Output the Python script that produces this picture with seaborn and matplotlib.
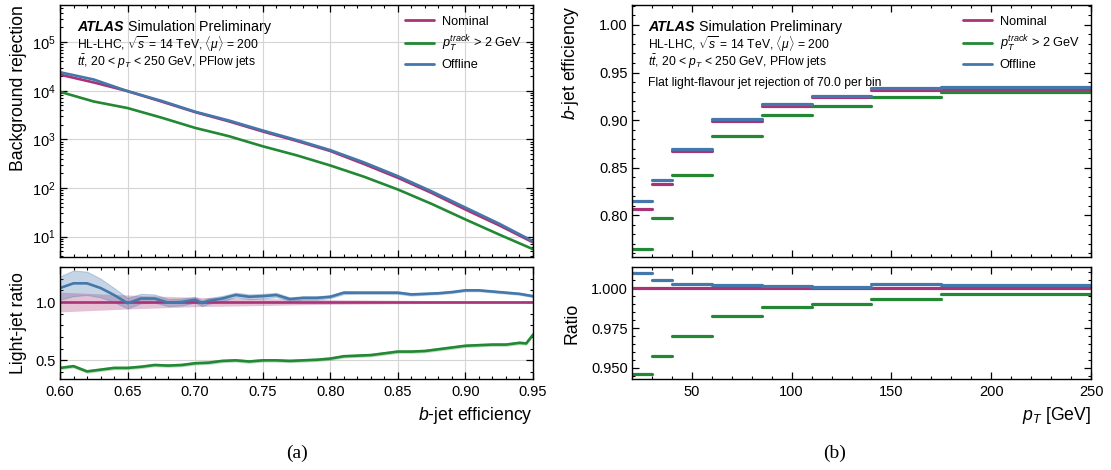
import numpy as np
import pandas as pd
import matplotlib
matplotlib.use("Agg")
import matplotlib.pyplot as plt
import seaborn as sns
from matplotlib.ticker import MultipleLocator, LogLocator, NullFormatter, FormatStrFormatter
from matplotlib.lines import Line2D

# ---------------- data ----------------
taggers = ["Nominal", "$p_T^{track}$ > 2 GeV", "Offline"]
colors = ["#AA3377", "#228833", "#4477AA"]

# (a) top: background rejection vs b-jet efficiency
eff_top = [0.600, 0.625, 0.650, 0.675, 0.700, 0.725, 0.750, 0.775,
           0.800, 0.825, 0.850, 0.875, 0.900, 0.925, 0.950]
rej_nominal = [21400, 14800, 9800, 6000, 3630, 2340, 1450, 930,
               575, 310, 162, 79, 36, 17, 7.6]
rej_ptcut = [9500, 6000, 4400, 2800, 1720, 1160, 720, 470,
             290, 170, 93, 47, 22.5, 11, 5.5]
rej_offline = [24000, 17000, 9800, 6200, 3700, 2440, 1520, 970,
               600, 335, 175, 85, 39.5, 18.4, 8.0]

# (a) bottom: light-jet ratio
eff_nom_band = [0.60, 0.65, 0.70, 0.75, 0.80, 0.85, 0.90, 0.95]
ratio_nominal = [1.0, 1.0, 1.0, 1.0, 1.0, 1.0, 1.0, 1.0]
unc_nominal = [0.085, 0.06, 0.04, 0.03, 0.02, 0.015, 0.01, 0.01]

eff_off_ratio = [0.60, 0.61, 0.62, 0.63, 0.64, 0.65, 0.66, 0.67, 0.68, 0.69, 0.70, 0.705,
                 0.71, 0.72, 0.73, 0.74, 0.75, 0.76, 0.77, 0.78, 0.79, 0.80, 0.81, 0.82,
                 0.83, 0.84, 0.85, 0.86, 0.87, 0.88, 0.89, 0.90, 0.91, 0.92, 0.93, 0.94, 0.95]
ratio_offline = [1.12, 1.16, 1.16, 1.12, 1.06, 0.99, 1.03, 1.03, 0.995, 1.00, 1.02, 0.99,
                 1.01, 1.03, 1.06, 1.045, 1.05, 1.06, 1.025, 1.035, 1.035, 1.045, 1.08, 1.08,
                 1.08, 1.08, 1.08, 1.065, 1.07, 1.075, 1.085, 1.10, 1.10, 1.09, 1.08, 1.07, 1.05]
unc_offline = [0.10, 0.11, 0.10, 0.08, 0.06, 0.045, 0.04, 0.035, 0.03, 0.03, 0.025, 0.025,
               0.025, 0.022, 0.02, 0.02, 0.02, 0.018, 0.015, 0.015, 0.015, 0.012, 0.012, 0.01,
               0.01, 0.01, 0.01, 0.01, 0.008, 0.008, 0.008, 0.008, 0.008, 0.008, 0.008, 0.008, 0.008]

eff_cut_ratio = [0.60, 0.61, 0.62, 0.63, 0.64, 0.65, 0.66, 0.67, 0.68, 0.69, 0.70, 0.71,
                 0.72, 0.73, 0.74, 0.75, 0.76, 0.77, 0.78, 0.79, 0.80, 0.81, 0.82, 0.83,
                 0.84, 0.85, 0.86, 0.87, 0.88, 0.89, 0.90, 0.91, 0.92, 0.93, 0.94, 0.945, 0.95]
ratio_ptcut = [0.435, 0.45, 0.405, 0.42, 0.435, 0.435, 0.445, 0.46, 0.455, 0.46, 0.475, 0.48,
               0.495, 0.50, 0.49, 0.50, 0.50, 0.495, 0.50, 0.505, 0.515, 0.535, 0.54, 0.545,
               0.56, 0.575, 0.575, 0.58, 0.595, 0.61, 0.625, 0.63, 0.635, 0.635, 0.65, 0.645, 0.72]
unc_ptcut = 0.015

# (b): b-jet efficiency per pT bin at flat light rejection of 70
pt_bins = [20, 30, 40, 60, 85, 110, 140, 175, 250]
beff_nominal = [0.807, 0.8326, 0.8677, 0.8986, 0.9147, 0.9239, 0.9316, 0.9323]
beff_ptcut = [0.764, 0.797, 0.8424, 0.883, 0.905, 0.915, 0.9245, 0.9298]
beff_offline = [0.815, 0.837, 0.870, 0.901, 0.9165, 0.925, 0.9334, 0.935]
bratio_nominal = [1.0, 1.0, 1.0, 1.0, 1.0, 1.0, 1.0, 1.0]
bratio_ptcut = [0.946, 0.9576, 0.9702, 0.9827, 0.9882, 0.9901, 0.9931, 0.9966]
bratio_offline = [1.0096, 1.0052, 1.0025, 1.0021, 1.0014, 1.0008, 1.0025, 1.0021]

# ---------------- style ----------------
sns.set_theme(style="ticks")
plt.rcParams.update({
    "font.family": ["Liberation Sans", "DejaVu Sans"],
    "mathtext.fontset": "custom",
    "mathtext.rm": "Liberation Sans",
    "mathtext.it": "Liberation Sans:italic",
    "mathtext.bf": "Liberation Sans:bold",
    "text.color": "black", "axes.labelcolor": "black",
    "axes.edgecolor": "black", "xtick.color": "black", "ytick.color": "black",
    "axes.linewidth": 1.0,
    "xtick.direction": "in", "ytick.direction": "in",
    "xtick.top": True, "ytick.right": True,
    "xtick.major.size": 5, "ytick.major.size": 5,
    "xtick.minor.size": 2.5, "ytick.minor.size": 2.5,
    "xtick.major.width": 0.9, "ytick.major.width": 0.9,
    "xtick.minor.width": 0.8, "ytick.minor.width": 0.8,
    "xtick.labelsize": 10.5, "ytick.labelsize": 10.5,
    "xtick.major.pad": 4.5, "ytick.major.pad": 3,
    "axes.labelsize": 12.7,
})

W, H = 1111, 470
fig = plt.figure(figsize=(W / 100, H / 100), dpi=100)


def box(x0, y0, x1, y1):
    return [x0 / W, 1 - y1 / H, (x1 - x0) / W, (y1 - y0) / H]


ax1 = fig.add_axes(box(60, 5, 533, 257))
ax2 = fig.add_axes(box(60, 267, 533, 379))
ax3 = fig.add_axes(box(632, 5, 1091, 257))
ax4 = fig.add_axes(box(632, 267, 1091, 379))

pal = dict(zip(taggers, colors))
LW = 1.9

# ---------------- (a) top ----------------
df_rej = pd.DataFrame({
    "eff": eff_top * 3,
    "rej": rej_nominal + rej_ptcut + rej_offline,
    "tagger": [t for t in taggers for _ in eff_top],
})
sns.lineplot(data=df_rej, x="eff", y="rej", hue="tagger", hue_order=taggers,
             palette=pal, estimator=None, lw=LW, legend=False, ax=ax1)
ax1.set_yscale("log")
ax1.set_xlim(0.60, 0.95)
ax1.set_ylim(3.8, 5.8e5)
ax1.yaxis.set_major_locator(LogLocator(base=10, numticks=12))
ax1.yaxis.set_minor_locator(LogLocator(base=10, subs=np.arange(2, 10), numticks=12))
ax1.yaxis.set_minor_formatter(NullFormatter())
ax1.xaxis.set_major_locator(MultipleLocator(0.05))
ax1.xaxis.set_minor_locator(MultipleLocator(0.01))
ax1.tick_params(axis="x", labelbottom=False)
ax1.set_xlabel("")
ax1.set_ylabel("Background rejection", ha="right", y=1.0)
ax1.yaxis.set_label_coords(-0.070, 1.0)

# ---------------- (a) bottom ----------------
ax2.fill_between(eff_nom_band, np.array(ratio_nominal) - np.array(unc_nominal),
                 np.array(ratio_nominal) + np.array(unc_nominal),
                 color=colors[0], alpha=0.3, lw=0)
sns.lineplot(x=eff_nom_band, y=ratio_nominal, color=colors[0], lw=LW, ax=ax2)
ax2.fill_between(eff_cut_ratio, np.array(ratio_ptcut) - unc_ptcut,
                 np.array(ratio_ptcut) + unc_ptcut, color=colors[1], alpha=0.3, lw=0)
sns.lineplot(x=eff_cut_ratio, y=ratio_ptcut, color=colors[1], lw=LW,
             estimator=None, ax=ax2)
ax2.fill_between(eff_off_ratio, np.array(ratio_offline) - np.array(unc_offline),
                 np.array(ratio_offline) + np.array(unc_offline),
                 color=colors[2], alpha=0.3, lw=0.8, edgecolor=colors[2])
sns.lineplot(x=eff_off_ratio, y=ratio_offline, color=colors[2], lw=LW,
             estimator=None, ax=ax2)
ax2.set_xlim(0.60, 0.95)
ax2.set_ylim(0.34, 1.30)
ax2.xaxis.set_major_locator(MultipleLocator(0.05))
ax2.xaxis.set_minor_locator(MultipleLocator(0.01))
ax2.xaxis.set_major_formatter(FormatStrFormatter("%.2f"))
ax2.yaxis.set_major_locator(MultipleLocator(0.5))
ax2.yaxis.set_minor_locator(MultipleLocator(0.1))
ax2.yaxis.set_major_formatter(FormatStrFormatter("%.1f"))
ax2.set_ylabel("Light-jet ratio")
ax2.yaxis.set_label_coords(-0.070, 0.5)
ax2.set_xlabel("$b$-jet efficiency", ha="right", va="top")
ax2.xaxis.set_label_coords(1.0, -0.23)

for ax in (ax1, ax2):
    ax.grid(True, which="major", color="#d4d4d4", lw=0.8)
    ax.set_axisbelow(True)


# ---------------- (b) ----------------
def seg_frame(series):
    rows = []
    for name, vals in series:
        for i, v in enumerate(vals):
            rows.append((name, i, pt_bins[i], v))
            rows.append((name, i, pt_bins[i + 1], v))
    return pd.DataFrame(rows, columns=["tagger", "bin", "pt", "val"])


df_eff = seg_frame(zip(taggers, [beff_nominal, beff_ptcut, beff_offline]))
sns.lineplot(data=df_eff, x="pt", y="val", hue="tagger", hue_order=taggers,
             palette=pal, units="bin", estimator=None, lw=2.3, legend=False, ax=ax3)
df_br = seg_frame(zip(taggers, [bratio_nominal, bratio_ptcut, bratio_offline]))
sns.lineplot(data=df_br, x="pt", y="val", hue="tagger", hue_order=taggers,
             palette=pal, units="bin", estimator=None, lw=2.3, legend=False, ax=ax4)

ax3.set_xlim(20, 250)
ax3.set_ylim(0.756, 1.021)
ax3.yaxis.set_major_locator(MultipleLocator(0.05))
ax3.yaxis.set_minor_locator(MultipleLocator(0.01))
ax3.yaxis.set_major_formatter(FormatStrFormatter("%.2f"))
ax3.xaxis.set_major_locator(MultipleLocator(50))
ax3.xaxis.set_minor_locator(MultipleLocator(10))
ax3.tick_params(axis="x", labelbottom=False)
ax3.set_xlabel("")
ax3.set_ylabel("$b$-jet efficiency", ha="right", y=1.0)
ax3.yaxis.set_label_coords(-0.112, 1.0)

ax4.set_xlim(20, 250)
ax4.set_ylim(0.943, 1.0134)
ax4.yaxis.set_major_locator(MultipleLocator(0.025))
ax4.yaxis.set_minor_locator(MultipleLocator(0.005))
ax4.yaxis.set_major_formatter(FormatStrFormatter("%.3f"))
ax4.xaxis.set_major_locator(MultipleLocator(50))
ax4.xaxis.set_minor_locator(MultipleLocator(10))
ax4.set_ylabel("Ratio")
ax4.yaxis.set_label_coords(-0.112, 0.5)
ax4.set_xlabel("$p_T$ [GeV]", ha="right", va="top")
ax4.xaxis.set_label_coords(1.0, -0.23)

# ---------------- annotations & legends ----------------
handles = [Line2D([], [], color=c, lw=2.0) for c in colors]


def atlas_text(ax, x, lines):
    t = ax.text(x, 0.913, "ATLAS", transform=ax.transAxes, fontsize=10.3,
                fontweight="bold", fontstyle="italic", va="center", ha="left")
    ax.annotate(" Simulation Preliminary", xy=(1, 0), xycoords=t, fontsize=10.3,
                va="bottom", ha="left")
    for y, s in lines:
        ax.text(x, y, s, transform=ax.transAxes, fontsize=8.7, va="center", ha="left")
    ax.legend(handles, taggers, loc="upper right", frameon=False, fontsize=9.2,
              handlelength=2.3, handletextpad=0.6, labelspacing=0.45,
              borderaxespad=0.45, borderpad=0.4)


line2 = r"HL-LHC, $\sqrt{s}$ = 14 TeV, $\langle\mu\rangle$ = 200"
line3 = r"$t\bar{t}$, 20 < $p_T$ < 250 GeV, PFlow jets"
atlas_text(ax1, 0.036, [(0.845, line2), (0.775, line3)])
atlas_text(ax3, 0.035, [(0.845, line2), (0.775, line3),
                        (0.69, "Flat light-flavour jet rejection of 70.0 per bin")])

fig.text(297 / W, 1 - 453 / H, "(a)", ha="center", va="center",
         family=["Liberation Serif", "DejaVu Serif"], fontsize=14)
fig.text(835 / W, 1 - 453 / H, "(b)", ha="center", va="center",
         family=["Liberation Serif", "DejaVu Serif"], fontsize=14)

fig.savefig("out.png", dpi=100)
